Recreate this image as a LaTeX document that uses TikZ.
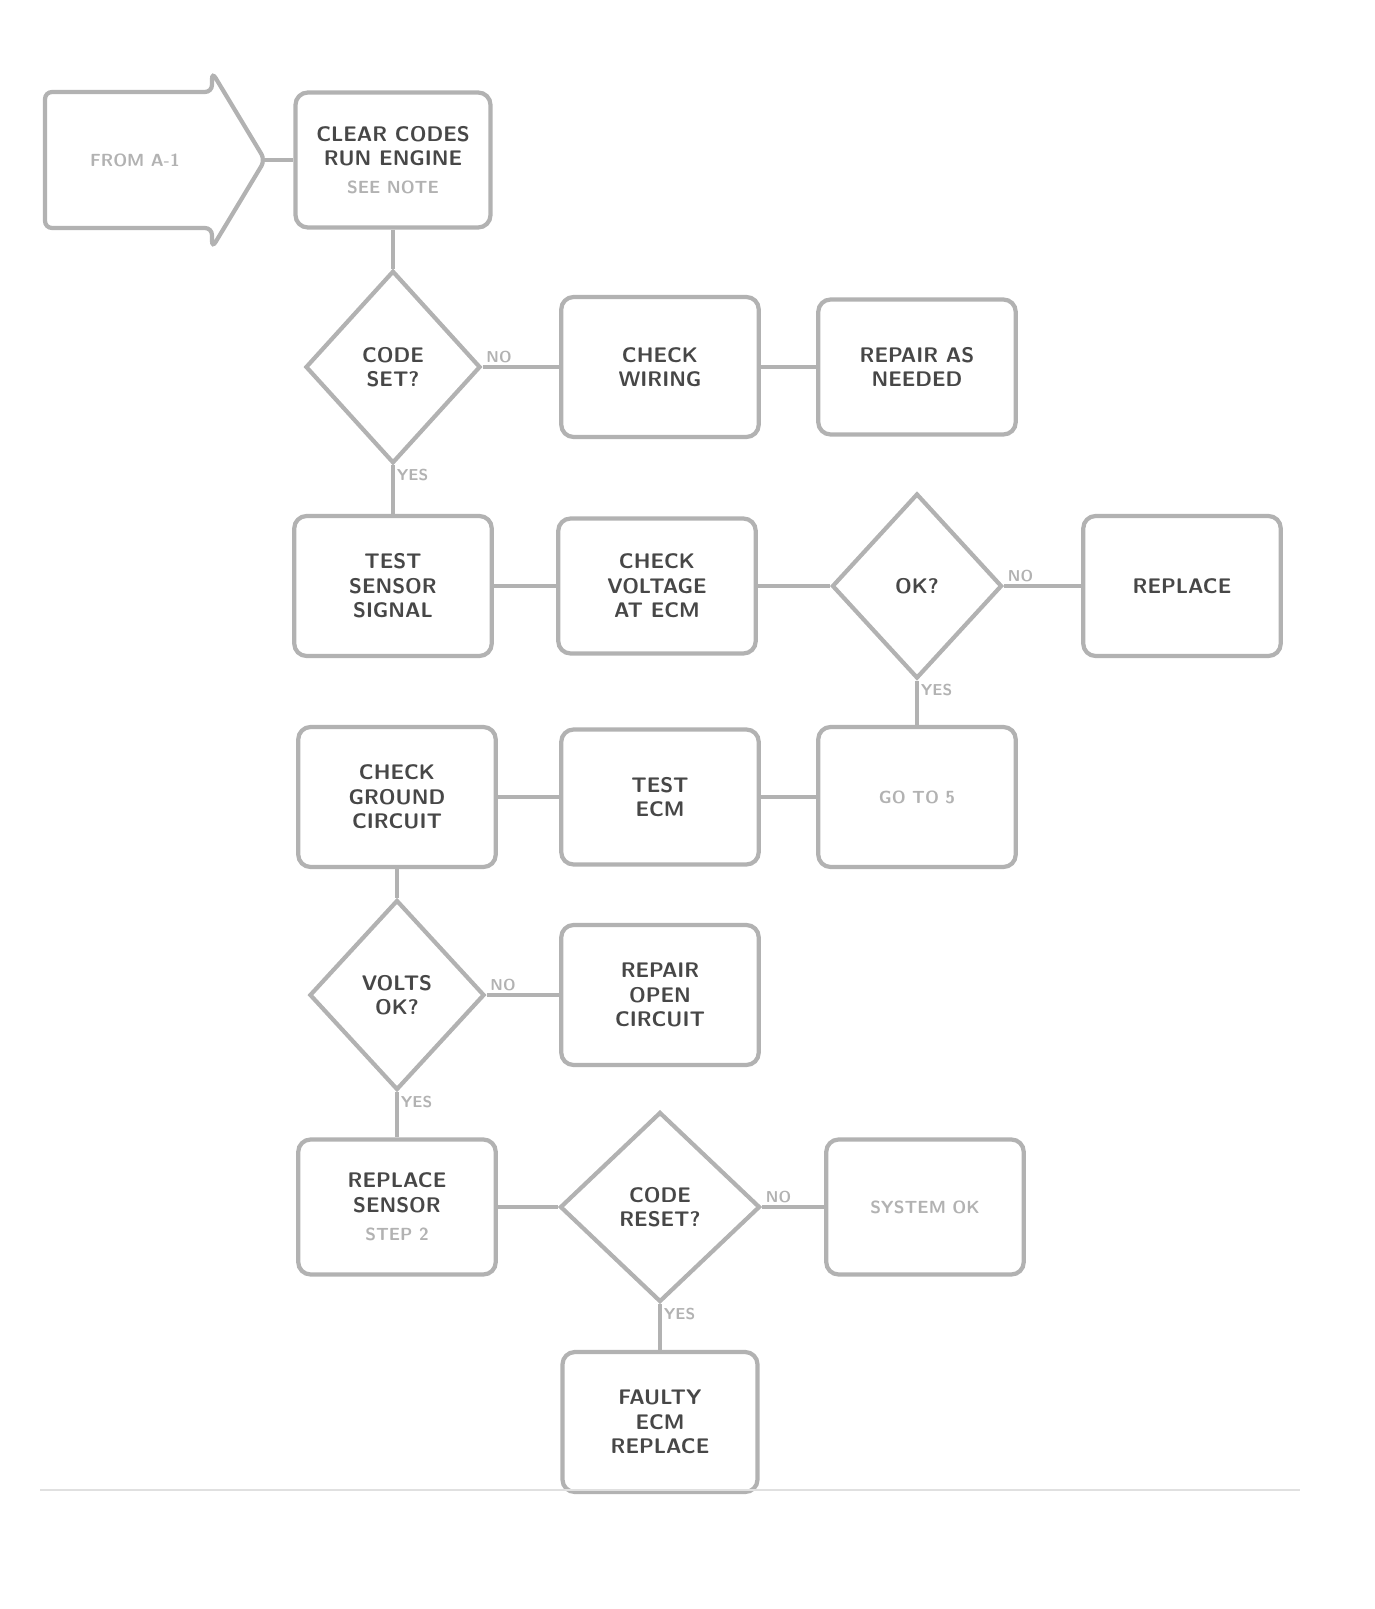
\documentclass[tikz,border=0pt]{standalone}
\usetikzlibrary{shapes.geometric}
\colorlet{chart edge}{black!30}
\colorlet{chart text}{black!72}
\tikzset{stepbox/.style={draw=chart edge, line width=2.4pt, rounded corners=7pt,
        minimum width=3.95cm, minimum height=2.8cm, align=center,
        text=chart text, font=\sffamily\bfseries\large},
    query/.style={diamond, draw=chart edge, line width=2.4pt, inner sep=0pt,
        minimum width=3.5cm, minimum height=3.85cm, align=center,
        text=chart text, font=\sffamily\bfseries\large},
    answer/.style={text=chart edge, font=\sffamily\bfseries\small, inner sep=2pt},
    link/.style={draw=chart edge, line width=2.4pt}}

\begin{document}
\begin{tikzpicture}[x=0.02cm, y=-0.02cm]
    \useasboundingbox (0,0) rectangle (1375,1609);
    % entry arrow
    \node[text=chart edge, font=\sffamily\bfseries] (start) at (135,160) {FROM A-1};
    \draw[link, rounded corners=4pt] (45,92) -- (212,92) -- (212,72) -- (265,160)
        -- (212,248) -- (212,228) -- (45,228) -- cycle;
    \coordinate (tip) at (265,160);

    \node[stepbox, minimum width=3.9cm, minimum height=2.7cm] (clear) at (393,160)
        {CLEAR CODES\\RUN ENGINE\\[2pt]{\color{chart edge}\normalsize SEE NOTE}};
    \node[query] (codeset) at (393,367) {CODE\\SET?};
    \node[stepbox] (wiring) at (660,367) {CHECK\\WIRING};
    \node[stepbox, minimum height=2.7cm] (repair) at (917,367) {REPAIR AS\\NEEDED};

    \node[stepbox] (signal) at (393,586) {TEST\\SENSOR\\SIGNAL};
    \node[stepbox, minimum height=2.7cm] (volts) at (657,586) {CHECK\\VOLTAGE\\AT ECM};
    \node[query, minimum width=3.4cm, minimum height=3.7cm] (okay) at (917,586) {OK?};
    \node[stepbox] (replace) at (1182,586) {REPLACE};

    \node[stepbox] (ground) at (397,797) {CHECK\\GROUND\\CIRCUIT};
    \node[stepbox, minimum height=2.7cm] (ecm) at (660,797) {TEST\\ECM};
    \node[stepbox, font=\sffamily\bfseries] (goto) at (917,797) {\color{chart edge}GO TO 5};

    \node[query, minimum width=3.5cm, minimum height=3.8cm] (voltsok) at (397,995) {VOLTS\\OK?};
    \node[stepbox] (open) at (660,995) {REPAIR\\OPEN\\CIRCUIT};

    \node[stepbox, minimum height=2.7cm] (sensor) at (397,1207)
        {REPLACE\\SENSOR\\[2pt]{\color{chart edge}\normalsize STEP 2}};
    \node[query, minimum width=4cm, minimum height=3.8cm] (reset) at (660,1207) {CODE\\RESET?};
    \node[stepbox, minimum height=2.7cm, font=\sffamily\bfseries] (sysok) at (925,1207)
        {\color{chart edge}SYSTEM OK};

    \node[stepbox, minimum width=3.9cm] (faulty) at (660,1422) {FAULTY\\ECM\\REPLACE};

    % answers
    \node[answer, anchor=south west] (no1) at (codeset.east) {NO};
    \node[answer, anchor=north west] (yes1) at (codeset.south) {YES};
    \node[answer, anchor=south west] (no2) at (okay.east) {NO};
    \node[answer, anchor=north west] (yes2) at (okay.south) {YES};
    \node[answer, anchor=south west] (no3) at (voltsok.east) {NO};
    \node[answer, anchor=north west] (yes3) at (voltsok.south) {YES};
    \node[answer, anchor=south west] (no4) at (reset.east) {NO};
    \node[answer, anchor=north west] (yes4) at (reset.south) {YES};

    % connectors
    \draw[link] (tip) -- (clear.west);
    \draw[link] (clear.south) -- (codeset.north);
    \draw[link] (codeset.east) -- (wiring.west);
    \draw[link] (wiring.east) -- (repair.west);
    \draw[link] (codeset.south) -- (signal.north);
    \draw[link] (signal.east) -- (volts.west);
    \draw[link] (volts.east) -- (okay.west);
    \draw[link] (okay.east) -- (replace.west);
    \draw[link] (okay.south) -- (goto.north);
    \draw[link] (goto.west) -- (ecm.east);
    \draw[link] (ecm.west) -- (ground.east);
    \draw[link] (ground.south) -- (voltsok.north);
    \draw[link] (voltsok.east) -- (open.west);
    \draw[link] (voltsok.south) -- (sensor.north);
    \draw[link] (sensor.east) -- (reset.west);
    \draw[link] (reset.east) -- (sysok.west);
    \draw[link] (reset.south) -- (faulty.north);

    \draw[draw=black!12, line width=1.5pt] (40,1490) -- (1300,1490);
\end{tikzpicture}
\end{document}
